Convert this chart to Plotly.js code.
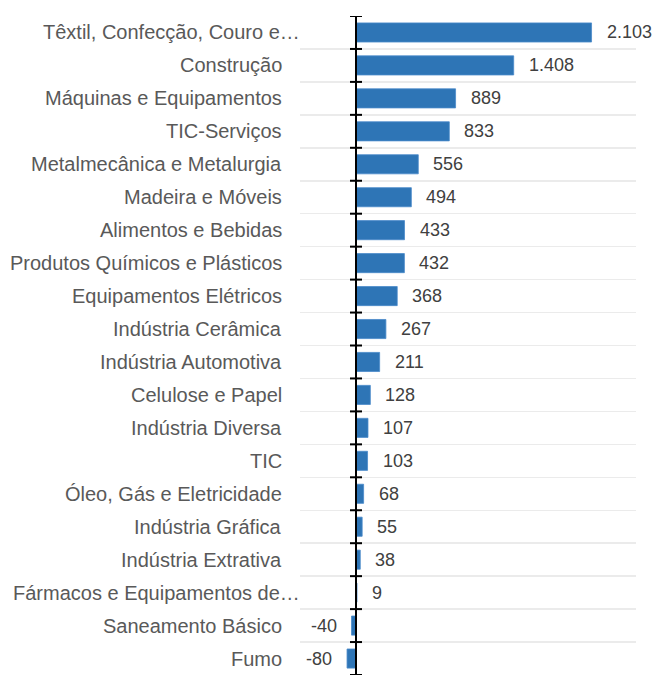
<!DOCTYPE html>
<html>
<head>
<meta charset="utf-8">
<script src="https://cdn.plot.ly/plotly-3.0.1.min.js"></script>
<style>html,body{margin:0;padding:0;background:#fff;}</style>
</head>
<body>
<div id="chart" style="width:655px;height:675px;"></div>
<script>
const categories = [
  "Têxtil, Confecção, Couro e…",
  "Construção",
  "Máquinas e Equipamentos",
  "TIC-Serviços",
  "Metalmecânica e Metalurgia",
  "Madeira e Móveis",
  "Alimentos e Bebidas",
  "Produtos Químicos e Plásticos",
  "Equipamentos Elétricos",
  "Indústria Cerâmica",
  "Indústria Automotiva",
  "Celulose e Papel",
  "Indústria Diversa",
  "TIC",
  "Óleo, Gás e Eletricidade",
  "Indústria Gráfica",
  "Indústria Extrativa",
  "Fármacos e Equipamentos de…",
  "Saneamento Básico",
  "Fumo"
];
const values = [2103, 1408, 889, 833, 556, 494, 433, 432, 368, 267, 211, 128, 107, 103, 68, 55, 38, 9, -40, -80];
const truncated = ["Têxtil, Confecção, Couro e…", "Fármacos e Equipamentos de…"];

function fmt(v) {
  const s = Math.abs(v).toString().replace(/\B(?=(\d{3})+(?!\d))/g, ".");
  return (v < 0 ? "-" : "") + s;
}

const labelFont = {family: "Liberation Sans, Arial, sans-serif", size: 20, color: "#595959"};
const valueFont = {family: "Liberation Sans, Arial, sans-serif", size: 18, color: "#404040"};

const annotations = [];
categories.forEach((c, i) => {
  annotations.push({
    xref: "paper", yref: "y", x: 0, y: c,
    xanchor: "right", yanchor: "middle",
    xshift: truncated.includes(c) ? 2 : -16,
    text: c, showarrow: false, font: labelFont
  });
  const v = values[i];
  annotations.push({
    xref: "x", yref: "y", x: v, y: c,
    xanchor: v >= 0 ? "left" : "right", yanchor: "middle",
    xshift: v >= 0 ? 13 : -13,
    text: fmt(v), showarrow: false, font: valueFont
  });
});

// crossing tick marks on the category boundaries of the zero axis
const shapes = [];
for (let i = 0; i <= categories.length; i++) {
  shapes.push({
    type: "line", layer: "above",
    xref: "x", yref: "y",
    xsizemode: "pixel", xanchor: 0, x0: -6, x1: 6,
    y0: i - 0.5, y1: i - 0.5,
    line: {color: "#000", width: 2}
  });
}

const traces = [
  {
    type: "bar", orientation: "h",
    x: values, y: categories,
    marker: {color: "#2E75B6", line: {color: "#4A8ACA", width: 0.8}},
    hoverinfo: "skip", cliponaxis: false
  }
];

const zeroPos = 500 / 3000;
const layout = {
  width: 655, height: 675,
  margin: {l: 300, r: 19, t: 16, b: 0},
  paper_bgcolor: "#fff", plot_bgcolor: "#fff",
  showlegend: false,
  bargap: 0.42,
  xaxis: {range: [-500, 2500], visible: false, showgrid: false, zeroline: false, fixedrange: true},
  yaxis: {
    type: "category", categoryorder: "array", categoryarray: categories,
    range: [categories.length - 0.5, -0.5],
    anchor: "free", position: zeroPos,
    showline: true, linecolor: "#000", linewidth: 2,
    ticks: "", tickson: "boundaries",
    showgrid: true, gridcolor: "#ebebeb", gridwidth: 1.5,
    showticklabels: false, zeroline: false
  },
  shapes: shapes,
  annotations: annotations
};

Plotly.newPlot("chart", traces, layout, {displayModeBar: false, staticPlot: true});
</script>
</body>
</html>
